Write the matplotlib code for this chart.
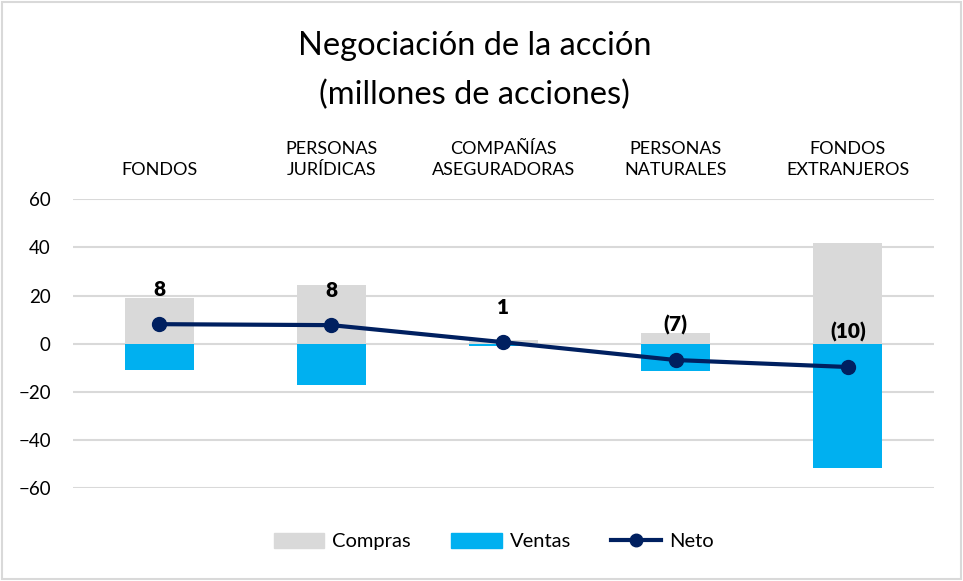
import numpy as np
import matplotlib.pyplot as plt
from matplotlib.patches import Rectangle
from matplotlib.lines import Line2D

plt.rcParams["font.family"] = ["Lato", "DejaVu Sans"]

categorias = ["FONDOS", "PERSONAS\nJURÍDICAS", "COMPAÑÍAS\nASEGURADORAS",
              "PERSONAS\nNATURALES", "FONDOS\nEXTRANJEROS"]
compras = [19.0, 24.5, 1.5, 4.5, 42.0]
ventas = [-11.0, -17.0, -1.0, -11.5, -51.5]
neto = [8.1, 7.7, 0.6, -6.8, -9.7]
yticks = [-60, -40, -20, 0, 20, 40, 60]

GRIS = "#D9D9D9"
AZUL = "#00B0F0"
NAVY = "#002060"


def etiqueta(v):
    r = int(round(abs(v)))
    return f"({r})" if v < 0 else f"{r}"


fig = plt.figure(figsize=(9.63, 5.81), dpi=100)
fig.patches.append(Rectangle((0.002, 0.003), 0.996, 0.994, transform=fig.transFigure,
                             fill=False, edgecolor=GRIS, linewidth=1.5))

ax = fig.add_axes([0.0758, 0.160, 0.894, 0.497])
x = np.arange(len(categorias))

ax.bar(x, compras, width=0.4, color=GRIS, zorder=2)
ax.bar(x, ventas, width=0.4, color=AZUL, zorder=2)
ax.plot(x, neto, color=NAVY, linewidth=3, marker="o", markersize=10, zorder=3)

for xi, v in zip(x, neto):
    ax.annotate(etiqueta(v), (xi, v), xytext=(0, 35), textcoords="offset pixels",
                ha="center", va="center", fontsize=15, fontweight="heavy", color="black",
                zorder=4)

ax.set_xlim(-0.5, len(categorias) - 0.5)
ax.set_ylim(-60, 60)
ax.set_yticks(yticks)
ax.tick_params(axis="y", length=0, labelsize=13.5, pad=16)
ax.yaxis.grid(True, color=GRIS, linewidth=1.5, zorder=0)
ax.set_axisbelow(True)
for s in ax.spines.values():
    s.set_visible(False)

ax.xaxis.tick_top()
ax.set_xticks(x)
ax.set_xticklabels(categorias, fontsize=13, linespacing=1.45, ha="center", multialignment="center")
ax.tick_params(axis="x", length=0, pad=15)

fig.text(0.493, 0.878, "Negociación de la acción\n(millones de acciones)", ha="center", va="center",
         fontsize=23.5, linespacing=1.75)

handles = [Rectangle((0, 0), 1, 1, color=GRIS),
           Rectangle((0, 0), 1, 1, color=AZUL),
           Line2D([], [], color=NAVY, linewidth=3, marker="o", markersize=9)]
fig.legend(handles, ["Compras", "Ventas", "Neto"], loc="center", bbox_to_anchor=(0.513, 0.068),
           ncol=3, frameon=False, fontsize=14.5, handlelength=2.5, handleheight=0.75,
           handletextpad=0.4, columnspacing=2.0)

fig.savefig("out.png", dpi=100)
